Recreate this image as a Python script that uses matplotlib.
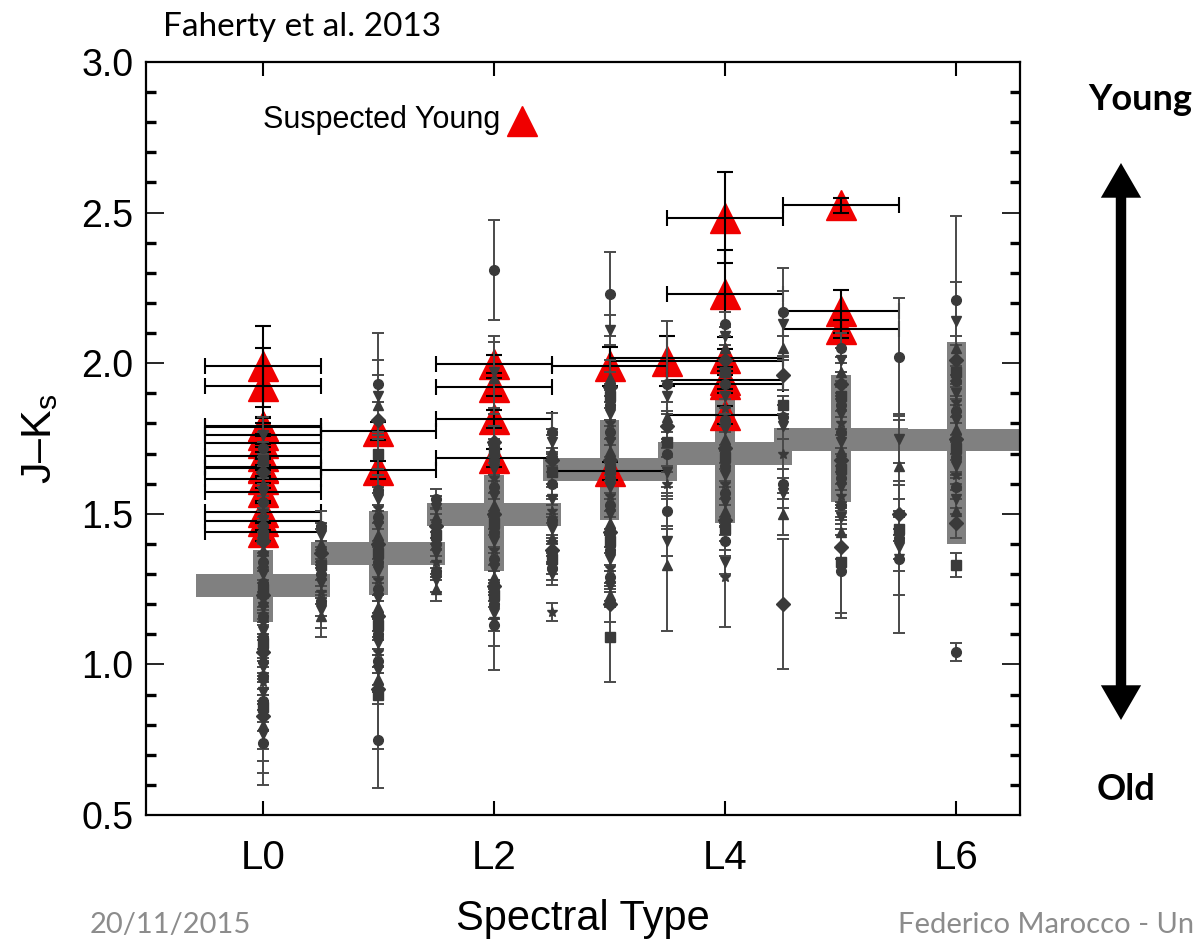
import matplotlib
matplotlib.use("Agg")
import matplotlib.pyplot as plt
from matplotlib import font_manager
from matplotlib.patches import FancyArrowPatch, ArrowStyle
from matplotlib.ticker import MultipleLocator

# field L dwarfs: (J-Ks, error) for each spectral-type column
jk_l0 = [(0.74, 0.14), (0.77, 0.13), (0.80, 0.12), (0.83, 0.11), (0.86, 0.08),
         (0.88, 0.07), (0.91, 0.06), (0.94, 0.07), (0.96, 0.06), (0.99, 0.05),
         (1.02, 0.06), (1.04, 0.05), (1.07, 0.06), (1.09, 0.05), (1.11, 0.06),
         (1.14, 0.05), (1.16, 0.06), (1.19, 0.05), (1.21, 0.06), (1.23, 0.05),
         (1.25, 0.06), (1.27, 0.05), (1.30, 0.06), (1.32, 0.05), (1.34, 0.06),
         (1.36, 0.05), (1.38, 0.06), (1.41, 0.05), (1.43, 0.06), (1.46, 0.05),
         (1.48, 0.06), (1.51, 0.05), (1.54, 0.06), (1.57, 0.05), (1.60, 0.06),
         (1.64, 0.05), (1.68, 0.06), (1.72, 0.05), (1.76, 0.06)]
jk_l0p5 = [(1.46, 0.05), (1.43, 0.04), (1.40, 0.05), (1.37, 0.04), (1.33, 0.05),
           (1.30, 0.04), (1.27, 0.05), (1.24, 0.04), (1.21, 0.05), (1.18, 0.06),
           (1.16, 0.07)]
jk_l1 = [(1.93, 0.17), (1.89, 0.12), (1.86, 0.10), (1.81, 0.06), (1.70, 0.05),
         (1.58, 0.05), (1.55, 0.04), (1.52, 0.05), (1.49, 0.04), (1.46, 0.05),
         (1.43, 0.04), (1.40, 0.05), (1.37, 0.04), (1.34, 0.05), (1.31, 0.04),
         (1.28, 0.05), (1.25, 0.04), (1.22, 0.05), (1.19, 0.04), (1.16, 0.05),
         (1.13, 0.04), (1.10, 0.05), (1.07, 0.04), (1.04, 0.05), (1.01, 0.04),
         (0.98, 0.05), (0.95, 0.04), (0.92, 0.05), (0.90, 0.18), (0.75, 0.16)]
jk_l1p5 = [(1.55, 0.033), (1.52, 0.04), (1.49, 0.03), (1.46, 0.04), (1.43, 0.03),
           (1.40, 0.04), (1.37, 0.03), (1.34, 0.04), (1.31, 0.03), (1.28, 0.04),
           (1.25, 0.04)]
jk_l2 = [(2.31, 0.165), (1.97, 0.12), (1.95, 0.12), (1.74, 0.05), (1.71, 0.04),
         (1.68, 0.05), (1.65, 0.04), (1.62, 0.05), (1.59, 0.04), (1.56, 0.05),
         (1.53, 0.04), (1.50, 0.05), (1.47, 0.04), (1.44, 0.05), (1.41, 0.04),
         (1.38, 0.05), (1.35, 0.04), (1.32, 0.05), (1.29, 0.04), (1.26, 0.05),
         (1.23, 0.04), (1.20, 0.05), (1.17, 0.06), (1.15, 0.09), (1.13, 0.15)]
jk_l2p5 = [(1.77, 0.065), (1.74, 0.04), (1.71, 0.05), (1.68, 0.04), (1.64, 0.05),
           (1.60, 0.04), (1.55, 0.05), (1.51, 0.04), (1.48, 0.05), (1.45, 0.04),
           (1.42, 0.05), (1.38, 0.04), (1.35, 0.05), (1.32, 0.04), (1.30, 0.035),
           (1.175, 0.03)]
jk_l3 = [(2.23, 0.14), (2.11, 0.05), (1.95, 0.06), (1.92, 0.05), (1.89, 0.04),
         (1.86, 0.05), (1.83, 0.04), (1.80, 0.05), (1.77, 0.04), (1.74, 0.05),
         (1.71, 0.04), (1.68, 0.05), (1.65, 0.04), (1.62, 0.05), (1.59, 0.04),
         (1.56, 0.05), (1.53, 0.04), (1.50, 0.05), (1.47, 0.04), (1.44, 0.05),
         (1.41, 0.04), (1.38, 0.05), (1.35, 0.04), (1.32, 0.05), (1.29, 0.04),
         (1.26, 0.05), (1.23, 0.04), (1.20, 0.06), (1.09, 0.15)]
jk_l3p5 = [(1.93, 0.21), (1.89, 0.05), (1.82, 0.05), (1.79, 0.04), (1.74, 0.05),
           (1.70, 0.04), (1.64, 0.05), (1.60, 0.04), (1.51, 0.06), (1.41, 0.05),
           (1.33, 0.22)]
jk_l4 = [(2.13, 0.04), (2.09, 0.03), (2.05, 0.04), (2.01, 0.05), (1.97, 0.04),
         (1.93, 0.05), (1.89, 0.04), (1.85, 0.05), (1.81, 0.04), (1.78, 0.05),
         (1.75, 0.04), (1.72, 0.05), (1.69, 0.04), (1.66, 0.05), (1.63, 0.04),
         (1.60, 0.05), (1.57, 0.04), (1.54, 0.05), (1.51, 0.04), (1.48, 0.05),
         (1.45, 0.04), (1.41, 0.05), (1.34, 0.04), (1.29, 0.165)]
jk_l4p5 = [(2.17, 0.145), (2.13, 0.11), (2.05, 0.04), (1.96, 0.05), (1.86, 0.03),
           (1.82, 0.04), (1.79, 0.04), (1.70, 0.05), (1.60, 0.05), (1.57, 0.05),
           (1.50, 0.07), (1.20, 0.215)]
jk_l5 = [(2.05, 0.05), (2.01, 0.04), (1.97, 0.05), (1.93, 0.04), (1.89, 0.05),
         (1.86, 0.04), (1.83, 0.05), (1.80, 0.04), (1.77, 0.05), (1.74, 0.04),
         (1.71, 0.05), (1.68, 0.04), (1.65, 0.05), (1.62, 0.04), (1.59, 0.05),
         (1.56, 0.04), (1.53, 0.05), (1.49, 0.04), (1.44, 0.05), (1.39, 0.04),
         (1.34, 0.17), (1.31, 0.155)]
jk_l5p5 = [(2.02, 0.195), (1.75, 0.08), (1.66, 0.15), (1.50, 0.05), (1.45, 0.04),
           (1.42, 0.19), (1.39, 0.04), (1.36, 0.05), (1.35, 0.245)]
jk_l6 = [(2.21, 0.28), (2.14, 0.13), (2.05, 0.04), (2.01, 0.05), (1.97, 0.04),
         (1.94, 0.05), (1.90, 0.04), (1.87, 0.05), (1.84, 0.04), (1.81, 0.05),
         (1.78, 0.04), (1.75, 0.05), (1.72, 0.04), (1.69, 0.05), (1.66, 0.04),
         (1.63, 0.05), (1.59, 0.04), (1.55, 0.05), (1.51, 0.04), (1.47, 0.05),
         (1.33, 0.04), (1.04, 0.03)]

# median colour and spread of the field sample per integer type
band_spt = [0, 1, 2, 3, 4, 5, 6]
band_median = [1.262, 1.368, 1.497, 1.647, 1.700, 1.746, 1.745]
band_lo = [1.14, 1.23, 1.31, 1.48, 1.47, 1.54, 1.40]
band_hi = [1.38, 1.51, 1.63, 1.81, 1.88, 1.96, 2.07]

# suspected young objects
young_spt = [0, 0, 0, 0, 0, 0, 0, 0, 0, 0, 0, 0, 0, 0,
             1, 1, 2, 2, 2, 2, 3, 3, 3.5, 4, 4, 4, 4, 4, 4, 5, 5, 5]
young_jk = [1.990, 1.925, 1.793, 1.787, 1.762, 1.735, 1.693, 1.657, 1.652, 1.616,
            1.571, 1.505, 1.477, 1.441, 1.776, 1.646, 1.998, 1.920, 1.815, 1.686,
            1.990, 1.643, 2.006, 2.483, 2.231, 2.018, 1.943, 1.932, 1.827,
            2.524, 2.172, 2.115]
young_jk_err = [0.135, 0.125, 0.03, 0.03, 0.03, 0.03, 0.03, 0.03, 0.03, 0.03,
                0.03, 0.03, 0.03, 0.03, 0.03, 0.03, 0.03, 0.03, 0.03, 0.03,
                0.065, 0.03, 0.083, 0.152, 0.144, 0.03, 0.03, 0.03, 0.03,
                0.025, 0.072, 0.03]
young_spt_lo = [0.5, 0.5, 0.5, 0.5, 0.5, 0.5, 0.5, 0.5, 0.5, 0.5, 0.5, 0.5, 0.5, 0.5,
                0.5, 0.5, 0.5, 0.5, 0.5, 0.5, 0.5, 0.5, 0.5, 0.5, 0.5, 1.0, 0.5, 0.5,
                0.5, 0.5, 0.5, 0.5]
young_spt_hi = [0.5, 0.5, 0.5, 0.5, 0.5, 0.5, 0.5, 0.5, 0.5, 0.5, 0.5, 0.5, 0.5, 0.5,
                0.5, 0.5, 0.5, 0.5, 0.5, 0.5, 0.5, 0.5, 1.0, 0.5, 0.5, 0.5, 0.5, 0.5,
                0.5, 0.5, 0.5, 0.5]

tick_spt = [0, 2, 4, 6]
tick_names = ["L0", "L2", "L4", "L6"]

installed = {f.name for f in font_manager.fontManager.ttflist}
plot_font = "Liberation Sans Narrow" if "Liberation Sans Narrow" in installed else "Liberation Sans"
slide_font = "Lato" if "Lato" in installed else "DejaVu Sans"

plt.rcParams["font.family"] = [plot_font, "DejaVu Sans"]
plt.rcParams["mathtext.fontset"] = "custom"
plt.rcParams["mathtext.rm"] = plot_font
plt.rcParams["mathtext.it"] = plot_font

GREY_BAND = "#808080"
GREY_PT = "#3a3a3a"
GREY_BAR = "#4a4a4a"
RED = "#f00000"

fig = plt.figure(figsize=(11.96, 9.42), dpi=100)
ax = fig.add_axes([0.1221, 0.1348, 0.7308, 0.7994])

# grey median bands
ax.barh(band_median, 1.16, left=[s - 0.58 for s in band_spt], height=0.076,
        color=GREY_BAND, zorder=1)
ax.bar(band_spt, [h - l for h, l in zip(band_hi, band_lo)], bottom=band_lo,
       width=0.17, color=GREY_BAND, zorder=1)

# young objects
ax.plot(young_spt, young_jk, "^", ms=21, color=RED, mec=RED, zorder=2)
ax.errorbar(young_spt, young_jk, xerr=[young_spt_lo, young_spt_hi], yerr=young_jk_err,
            fmt="none", ecolor="black", elinewidth=1.5, capsize=5.5, capthick=1.5,
            zorder=2.5)

# field objects
columns = [(0.0, jk_l0), (0.5, jk_l0p5), (1.0, jk_l1), (1.5, jk_l1p5),
           (2.0, jk_l2), (2.5, jk_l2p5), (3.0, jk_l3), (3.5, jk_l3p5),
           (4.0, jk_l4), (4.5, jk_l4p5), (5.0, jk_l5), (5.5, jk_l5p5),
           (6.0, jk_l6)]
shapes = ["o", "v", "^", "D", "s", "o", "v", "*"]
for spt, pts in columns:
    ys = [p[0] for p in pts]
    es = [p[1] for p in pts]
    ax.errorbar([spt] * len(ys), ys, yerr=es, fmt="none", ecolor=GREY_BAR,
                elinewidth=1.4, capsize=4, capthick=1.4, zorder=3)
    for i, y in enumerate(ys):
        ax.plot(spt, y, marker=shapes[i % len(shapes)], ms=7, color=GREY_PT,
                mec=GREY_PT, zorder=3.5)

ax.set_xlim(-1.01, 6.55)
ax.set_ylim(0.5, 3.0)
ax.set_xticks(tick_spt)
ax.set_xticklabels(tick_names)
ax.yaxis.set_major_locator(MultipleLocator(0.5))
ax.yaxis.set_minor_locator(MultipleLocator(0.1))
ax.tick_params(which="both", direction="in", top=True, right=True)
ax.tick_params(axis="x", which="major", length=10, width=1.5, labelsize=29, pad=17)
ax.tick_params(axis="y", which="major", length=13, width=1.2, labelsize=27, pad=9)
ax.tick_params(axis="y", which="minor", length=7, width=2.4)
for sp in ax.spines.values():
    sp.set_linewidth(1.6)

ax.set_xlabel("Spectral Type", fontsize=30, labelpad=16)
ax.set_ylabel("J\u2013K$_\\mathrm{s}$", fontsize=31, labelpad=15)

# legend
ax.text(0.134, 0.923, "Suspected Young", transform=ax.transAxes, fontsize=22,
        ha="left", va="center")
ax.plot([0.430], [0.922], "^", ms=22, color=RED, transform=ax.transAxes,
        clip_on=False)

# slide annotations
fig.text(163 / 1196, 1 - 27 / 942, "Faherty et al. 2013", fontsize=24,
         family=slide_font, ha="left", va="center")
fig.text(1140 / 1196, 1 - 100 / 942, "Young", fontsize=26, family=slide_font,
         weight="bold", ha="center", va="center")
fig.text(1126 / 1196, 1 - 790 / 942, "Old", fontsize=26, family=slide_font,
         weight="bold", ha="center", va="center")
fig.text(90 / 1196, 0.004, "20/11/2015", fontsize=21, family=slide_font,
         color="#8c8c8c", ha="left", va="bottom")
fig.text(1194 / 1196, 0.004, "Federico Marocco - Un", fontsize=21,
         family=slide_font, color="#8c8c8c", ha="right", va="bottom")

arrow_x = 1121 / 1196
arrow_mid = 1 - 441 / 942
head = ArrowStyle.Simple(head_length=25, head_width=29, tail_width=7.5)
for tip in (1 - 163 / 942, 1 - 720 / 942):
    fig.add_artist(FancyArrowPatch((arrow_x, arrow_mid), (arrow_x, tip),
                                   transform=fig.transFigure, arrowstyle=head,
                                   mutation_scale=1, color="black", lw=0,
                                   shrinkA=0, shrinkB=0))

fig.savefig("out.png", dpi=100)
